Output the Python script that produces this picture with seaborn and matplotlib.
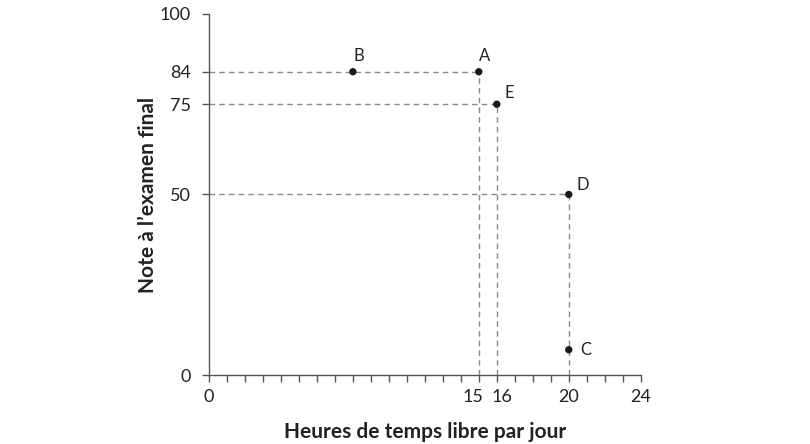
import numpy as np
import pandas as pd
import seaborn as sns
import matplotlib.pyplot as plt
import matplotlib.transforms as mtrans
from matplotlib.ticker import MultipleLocator

# Data
labels = ["A", "B", "C", "D", "E"]
hours = [15, 8, 20, 20, 16]
grades = [84, 84, 7, 50, 75]

x_ticks = [0, 15, 16, 20, 24]
y_ticks = [0, 50, 75, 84, 100]

df = pd.DataFrame({"label": labels, "hours": hours, "grade": grades})

sns.set_theme(style="white")
plt.rcParams['font.family'] = ['Lato', 'DejaVu Sans']

fig = plt.figure(figsize=(8.1, 4.44), dpi=100)
ax = fig.add_axes([0.258, 0.1554, 0.533, 0.8131])

grey = "#8a8a8a"
dash = dict(color=grey, lw=1, ls=(0, (4, 3)), zorder=1)

# dashed guides: A, E, D to both axes
for lab in ["A", "E", "D"]:
    r = df[df.label == lab].iloc[0]
    ax.plot([0, r.hours], [r.grade, r.grade], **dash)
    ax.plot([r.hours, r.hours], [0, r.grade], **dash)

sns.scatterplot(data=df, x="hours", y="grade", color="#1a1a1a", s=28,
                edgecolor="none", zorder=3, ax=ax, legend=False)

# label offsets in points
offsets = {"A": (4, 11), "B": (4, 11), "C": (12, 0), "D": (10, 7), "E": (9, 8)}
for _, r in df.iterrows():
    ax.annotate(r.label, (r.hours, r.grade), xytext=offsets[r.label],
                textcoords="offset points", fontsize=12, color="#222222",
                ha="center", va="center")

ax.set_xlim(0, 24)
ax.set_ylim(0, 100)
ax.set_xticks(x_ticks)
ax.set_yticks(y_ticks)
ax.xaxis.set_minor_locator(MultipleLocator(1))
ax.tick_params(axis="both", which="both", direction="out", length=5, width=1,
               color="#555555", labelsize=13, labelcolor="#222222",
               bottom=True, left=True)
ax.tick_params(axis="y", pad=8)
ax.tick_params(axis="x", pad=5)

# keep 15 and 16 apart
for t in ax.get_xticklabels():
    if t.get_text() == "15":
        t.set_horizontalalignment("right")
        t.set_transform(t.get_transform() + mtrans.ScaledTranslation(3 / 72, 0, fig.dpi_scale_trans))
    elif t.get_text() == "16":
        t.set_horizontalalignment("left")
        t.set_transform(t.get_transform() + mtrans.ScaledTranslation(-4 / 72, 0, fig.dpi_scale_trans))

for s in ["top", "right"]:
    ax.spines[s].set_visible(False)
for s in ["left", "bottom"]:
    ax.spines[s].set_color("#555555")
    ax.spines[s].set_linewidth(1)

ax.set_xlabel("Heures de temps libre par jour", fontsize=15, fontweight="bold",
              color="#222222", labelpad=12)
ax.set_ylabel("Note à l’examen final", fontsize=15, fontweight="bold",
              color="#222222", labelpad=1)

fig.savefig("out.png", dpi=100)
